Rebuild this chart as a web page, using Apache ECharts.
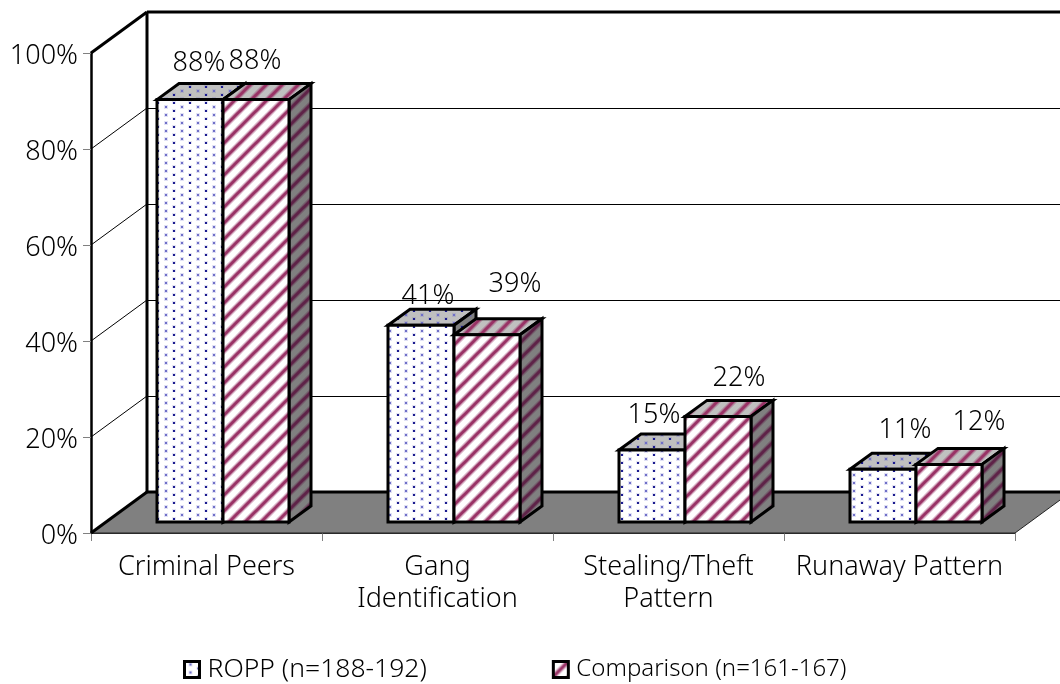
<!DOCTYPE html>
<html>
<head>
<meta charset="utf-8">
<style>
  html, body { margin: 0; padding: 0; background: #fff; }
  #chart { width: 1060px; height: 684px; }
</style>
<script src="https://cdn.jsdelivr.net/npm/echarts@6/dist/echarts.min.js"></script>
</head>
<body>
<div id="chart"></div>
<script>
const categories = ['Criminal Peers', 'Gang\nIdentification', 'Stealing/Theft\nPattern', 'Runaway Pattern']
const ropp = [88, 41, 15, 11]
const comparison = [88, 39, 22, 12]
const yTicks = [0, 20, 40, 60, 80, 100]
const seriesNames = ['ROPP (n=188-192)', 'Comparison (n=161-167)']

// labels were hand placed in the original, so each one has its own nudge
const roppNudge = [[-2, -20], [-4, -13], [-9, -19], [11, -23]]
const comparisonNudge = [[-12, -22], [17, -34], [10, -22], [19, -26]]

const fontName = '"Noto Sans", sans-serif'
const wallDx = 56, wallDy = -41     // full depth of the chart box
const barDx = 16.5, barDy = -11     // front plane of the bars
const sideDx = 22, sideDy = -16     // depth of one bar

function dotTile(bg) {
  const c = document.createElement('canvas')
  c.width = 16
  c.height = 8
  const g = c.getContext('2d')
  g.fillStyle = bg
  g.fillRect(0, 0, 16, 8)
  // light dot with a halo, then the dark one half a tile over
  g.fillStyle = 'rgba(90,90,200,0.18)'
  g.fillRect(4, 1, 4, 4)
  g.fillStyle = '#7070c8'
  g.fillRect(5, 2, 2, 2)
  g.fillStyle = 'rgba(40,40,160,0.12)'
  g.fillRect(12, 5, 4, 3)
  g.fillStyle = '#1c1c90'
  g.fillRect(13, 6, 2, 2)
  return { image: c, repeat: 'repeat' }
}

function stripeTile(bg, color) {
  const c = document.createElement('canvas')
  c.width = c.height = 16
  const g = c.getContext('2d')
  g.fillStyle = bg
  g.fillRect(0, 0, 16, 16)
  // soft edge first, then the core of the stripe
  g.strokeStyle = color
  for (const [alpha, width] of [[0.4, 5.5], [1, 3]]) {
    g.globalAlpha = alpha
    g.lineWidth = width
    for (const s of [-16, 0, 16]) {
      g.beginPath()
      g.moveTo(s - 3, 18)
      g.lineTo(s + 17, -2)
      g.stroke()
    }
  }
  return { image: c, repeat: 'repeat' }
}

const fills = [
  { front: dotTile('#ffffff'), top: dotTile('#c0c0c0'), side: dotTile('#808080') },
  { front: stripeTile('#ffffff', '#993366'), top: stripeTile('#c0c0c0', '#993366'), side: stripeTile('#808080', '#5e2348') }
]

function poly(points, fill, stroke, lineWidth) {
  return {
    type: 'polygon',
    shape: { points: points },
    style: { fill: fill || 'none', stroke: stroke || 'none', lineWidth: lineWidth || 0, lineJoin: 'miter' }
  }
}

function line(x1, y1, x2, y2, width) {
  return {
    type: 'line',
    shape: { x1: x1, y1: y1, x2: x2, y2: y2 },
    style: { stroke: '#000', lineWidth: width }
  }
}

function renderWalls(params, api) {
  const rect = params.coordSys
  const left = rect.x, right = rect.x + rect.width
  const y0 = api.coord([0, 0])[1], yTop = api.coord([0, 100])[1]
  const kids = []
  kids.push(poly([[left, y0], [left + wallDx, y0 + wallDy], [right + wallDx, y0 + wallDy], [right, y0]], '#808080', '#222', 1))
  yTicks.forEach(v => {
    if (v === 0 || v === 100) return
    const y = api.coord([0, v])[1]
    kids.push(line(left, y, left + wallDx, y + wallDy, 1))
    kids.push(line(left + wallDx, y + wallDy + 0.5, right + wallDx, y + wallDy + 0.5, 1))
  })
  kids.push(line(left, yTop, left + wallDx, yTop + wallDy, 3))
  kids.push(line(left + wallDx, yTop + wallDy, right + wallDx, yTop + wallDy, 3))
  kids.push(line(left + wallDx, yTop + wallDy, left + wallDx, y0 + wallDy, 3))
  kids.push(line(left, y0, left + wallDx, y0 + wallDy, 3))
  kids.push(line(left + wallDx, y0 + wallDy, right + wallDx, y0 + wallDy, 3))
  return { type: 'group', children: kids }
}

function makeBarRenderer(seriesIndex, nudges) {
  return function (params, api) {
    const idx = api.value(0)
    const base = api.coord([idx, 0])
    const topPt = api.coord([idx, api.value(1)])
    const w = api.size([1, 0])[0] * 2 / 7
    const x1 = base[0] - w + seriesIndex * w + barDx
    const x2 = x1 + w
    const yb = base[1] + barDy
    const yt = topPt[1] + barDy
    const f = fills[seriesIndex]
    const n = nudges[idx]
    return {
      type: 'group',
      children: [
        poly([[x1, yt], [x1 + sideDx, yt + sideDy], [x2 + sideDx, yt + sideDy], [x2, yt]], f.top, '#000', 3),
        poly([[x2, yt], [x2 + sideDx, yt + sideDy], [x2 + sideDx, yb + sideDy], [x2, yb]], f.side, '#000', 3),
        poly([[x1, yt], [x2, yt], [x2, yb], [x1, yb]], f.front, '#000', 3),
        {
          type: 'text',
          style: {
            text: api.value(1) + '%',
            x: (x1 + x2) / 2 + sideDx / 2 + n[0],
            y: yt + sideDy + n[1],
            align: 'center',
            verticalAlign: 'middle',
            font: '300 27px ' + fontName,
            fill: '#000'
          }
        }
      ]
    }
  }
}

const chart = echarts.init(document.getElementById('chart'), null, { renderer: 'canvas' })

chart.setOption({
  animation: false,
  backgroundColor: '#fff',
  grid: { left: 91, top: 53, width: 924, height: 480, containLabel: false },
  legend: {
    left: 183,
    top: 656,
    padding: 0,
    itemWidth: 15,
    itemHeight: 16,
    itemGap: 125,
    icon: 'rect',
    textStyle: { fontFamily: fontName, fontWeight: 300, fontSize: 26, color: '#000' },
    data: [
      {
        name: seriesNames[0],
        itemStyle: { color: fills[0].front, borderColor: '#000', borderWidth: 3 },
        textStyle: { fontFamily: fontName, fontWeight: 300, fontSize: 26.5, padding: [0, 0, 0, 3] }
      },
      {
        name: seriesNames[1],
        itemStyle: { color: fills[1].front, borderColor: '#000', borderWidth: 3 },
        textStyle: { fontFamily: fontName, fontWeight: 300, fontSize: 24, padding: [0, 0, 0, 3] }
      }
    ]
  },
  xAxis: {
    type: 'category',
    data: categories,
    axisLine: { lineStyle: { color: '#333', width: 1 } },
    axisTick: { show: true, alignWithLabel: false, length: 8, lineStyle: { color: '#808080', width: 1 } },
    axisLabel: { interval: 0, margin: 18, lineHeight: 32, fontFamily: fontName, fontWeight: 300, fontSize: 27, color: '#000' }
  },
  yAxis: {
    type: 'value',
    min: 0,
    max: 100,
    interval: 20,
    axisLine: { show: true, lineStyle: { color: '#000', width: 2.5 } },
    axisTick: { show: true, length: 8, lineStyle: { color: '#808080', width: 1 } },
    splitLine: { show: false },
    axisLabel: {
      formatter: '{t|{value}%}',
      margin: 13,
      color: '#000',
      rich: { t: { fontFamily: fontName, fontWeight: 300, fontSize: 27, color: '#000', padding: [6, 0, 0, 0] } }
    }
  },
  series: [
    {
      type: 'custom',
      name: 'walls',
      silent: true,
      z: 1,
      data: [[0, 0]],
      encode: { x: 0, y: 1 },
      renderItem: renderWalls
    },
    {
      type: 'custom',
      name: seriesNames[0],
      z: 3,
      data: ropp.map((v, i) => [i, v]),
      encode: { x: 0, y: 1 },
      renderItem: makeBarRenderer(0, roppNudge)
    },
    {
      type: 'custom',
      name: seriesNames[1],
      z: 4,
      data: comparison.map((v, i) => [i, v]),
      encode: { x: 0, y: 1 },
      renderItem: makeBarRenderer(1, comparisonNudge)
    }
  ]
})

window.addEventListener('resize', () => chart.resize())
</script>
</body>
</html>
